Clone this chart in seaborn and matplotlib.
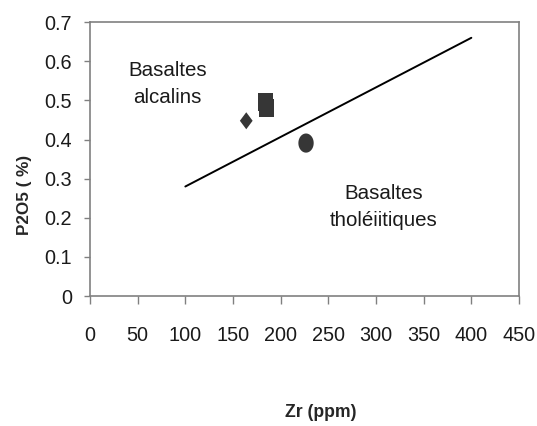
import matplotlib
matplotlib.use("Agg")
import matplotlib.pyplot as plt
from matplotlib import font_manager
import seaborn as sns
import numpy as np
import pandas as pd

# ── DATA ────────────────────────────────────────────────────────────────
zr = [163.9, 184.0, 185.5, 226.6]
p2o5 = [0.448, 0.496, 0.480, 0.391]
marker_kind = ['diamond', 'square', 'square', 'circle']

limit_zr = [100, 400]
limit_p2o5 = [0.28, 0.66]

x_ticks = [0, 50, 100, 150, 200, 250, 300, 350, 400, 450]
y_ticks = [0, 0.1, 0.2, 0.3, 0.4, 0.5, 0.6, 0.7]

# ── MARKER SHAPES (slightly taller than wide, as in the original) ───────
t = np.linspace(0, 2 * np.pi, 60)
shapes = {
    'diamond': ([(0, 1), (0.75, 0), (0, -1), (-0.75, 0)], 150),
    'square': ([(-0.42, -0.5), (0.42, -0.5), (0.42, 0.5), (-0.42, 0.5)], 165),
    'circle': (list(zip(0.8 * np.cos(t), np.sin(t))), 190),
}

# ── STYLE ───────────────────────────────────────────────────────────────
sns.set_theme(style='white')
installed = {f.name for f in font_manager.fontManager.ttflist}
if 'Liberation Sans Narrow' in installed:
    plt.rcParams['font.family'] = ['Liberation Sans Narrow', 'DejaVu Sans']
    k = 1.0
else:
    plt.rcParams['font.family'] = ['Liberation Sans', 'DejaVu Sans']
    k = 0.82

fig = plt.figure(figsize=(5.37, 4.26), dpi=100)
ax = fig.add_axes([0.1676, 0.305, 0.7989, 0.643])

df = pd.DataFrame({'Zr': zr, 'P2O5': p2o5, 'kind': marker_kind})
for kind, (verts, size) in shapes.items():
    sub = df[df['kind'] == kind]
    sns.scatterplot(data=sub, x='Zr', y='P2O5', marker=verts, s=size,
                    color='#363636', edgecolor='none', linewidth=0,
                    legend=False, zorder=3, ax=ax)

sns.lineplot(x=limit_zr, y=limit_p2o5, color='black', linewidth=1.4, ax=ax)

ax.text(81, 0.542, 'Basaltes\nalcalins', ha='center', va='center',
        fontsize=18 * k, linespacing=1.58, color='#1a1a1a')
ax.text(308.5, 0.227, 'Basaltes\ntholéiitiques', ha='center', va='center',
        fontsize=18 * k, linespacing=1.55, color='#1a1a1a')

ax.set_xlim(0, 450)
ax.set_ylim(0, 0.7)
ax.set_xticks(x_ticks)
ax.set_yticks(y_ticks)
ax.set_xticklabels([str(v) for v in x_ticks])
ax.set_yticklabels(['0' if v == 0 else f'{v:.1f}' for v in y_ticks])

for sp in ax.spines.values():
    sp.set_color('#808080')
    sp.set_linewidth(1.2)
ax.tick_params(axis='both', bottom=True, left=True, direction='out',
               width=1, color='#808080', labelsize=17.5 * k,
               labelcolor='#1a1a1a')
ax.tick_params(axis='x', length=5.8, pad=16)
ax.tick_params(axis='y', length=4.3, pad=8.5)

ax.set_xlabel('Zr (ppm)', fontsize=15.5 * k, fontweight='bold')
ax.xaxis.set_label_coords(0.538, -0.395)
ax.set_ylabel('P2O5 ( %)', fontsize=15 * k, fontweight='bold')
ax.yaxis.set_label_coords(-0.135, 0.369)

fig.savefig('out.png', dpi=100)
